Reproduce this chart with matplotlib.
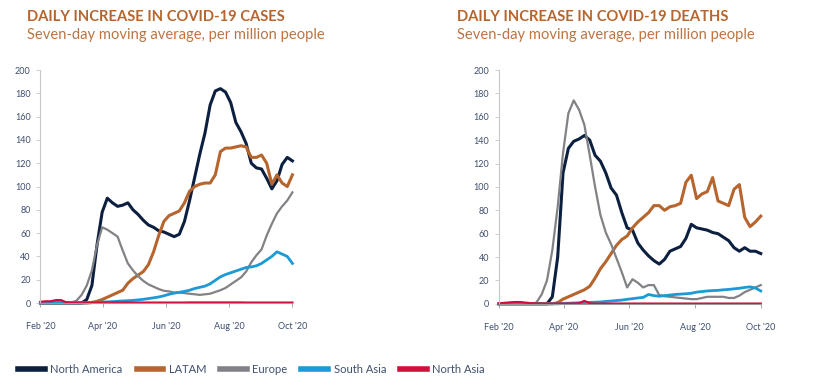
import matplotlib
matplotlib.use('Agg')
import matplotlib.pyplot as plt
import pandas as pd

plt.rcParams['font.family'] = ['Lato', 'DejaVu Sans']

# Sample dates (about every five days, Feb 1 to Oct 1 2020)
dates = pd.date_range('2020-02-01', '2020-10-01', periods=50)

regions = ['North America', 'LATAM', 'Europe', 'South Asia', 'North Asia']
colors = ['#0c1f3f', '#b5652d', '#808285', '#1b9ad6', '#d0103a']
widths = [2.2, 2.2, 1.6, 2.0, 1.6]

# Daily cases, 7-day average per million
cases_na = [0, 0, 0, 0, 0, 0, 0, 0, 0, 3,
            15, 50, 78, 90, 86, 83, 84, 86, 80, 76,
            71, 67, 65, 62, 61, 59, 57, 59, 70, 88,
            108, 128, 146, 170, 182, 184, 181, 172, 155, 147,
            137, 120, 116, 115, 107, 98, 105, 119, 125, 122]
cases_latam = [0, 0, 0, 0, 0, 0, 0, 0, 0, 0,
               0.5, 1.5, 3, 5, 7, 9, 11, 17, 21, 24,
               27, 33, 44, 58, 70, 75, 77, 79, 86, 96,
               100, 102, 103, 103, 110, 130, 133, 133, 134, 135,
               134, 125, 125, 127, 120, 102, 110, 103, 100, 110]
cases_europe = [0, 0, 0, 0, 0, 0, 0.5, 2, 7, 15,
                28, 50, 65, 63, 60, 57, 45, 34, 28, 23,
                19, 16, 14, 12, 10.5, 10, 9, 9, 8.5, 8,
                7.5, 7, 7.5, 8, 9.5, 11, 13, 16, 19, 22,
                27, 35, 41, 46, 58, 68, 77, 83, 88, 95]
cases_sasia = [0, 0, 0, 0, 0, 0, 0, 0, 0, 0.2,
               0.3, 0.5, 0.8, 1, 1.2, 1.5, 1.8, 2, 2.3, 2.7,
               3.2, 3.8, 4.5, 5.2, 6.2, 7.5, 8.5, 9.2, 10, 11,
               12.5, 13.5, 14.5, 16.5, 19.5, 22.5, 24.5, 26, 27.5, 29,
               30.5, 31, 32, 34, 37, 40, 44, 42, 40, 34]
cases_nasia = [1, 1.5, 1.5, 2.5, 2.5, 0.6, 0.3, 0.3, 0.3, 0.3,
               0.3, 0.3, 0.4, 0.4, 0.4, 0.4, 0.4, 0.4, 0.4, 0.4,
               0.4, 0.4, 0.4, 0.4, 0.4, 0.4, 0.4, 0.4, 0.4, 0.5,
               0.5, 0.5, 0.5, 0.5, 0.5, 0.5, 0.5, 0.5, 0.5, 0.5,
               0.4, 0.4, 0.4, 0.4, 0.4, 0.4, 0.4, 0.4, 0.4, 0.4]

# Daily deaths, 7-day average per million
deaths_na = [0, 0, 0, 0, 0, 0, 0, 0, 0, 0,
             6, 40, 112, 133, 139, 141, 144, 140, 127, 122,
             112, 99, 93, 78, 65, 63, 52, 46, 41, 37,
             34, 38, 45, 47, 49, 56, 68, 65, 64, 63,
             61, 60, 57, 54, 48, 45, 48, 45, 45, 43]
deaths_latam = [0, 0, 0, 0, 0, 0, 0, 0, 0, 0,
                0, 1, 4, 6, 8, 10, 12, 15, 22, 30,
                36, 43, 50, 55, 58, 65, 70, 74, 78, 84,
                84, 80, 83, 84, 86, 104, 110, 90, 94, 96,
                108, 88, 86, 84, 98, 102, 74, 66, 70, 75]
deaths_europe = [0, 0, 0, 0, 0, 0, 0, 1, 8, 20,
                 46, 83, 129, 163, 174, 166, 153, 127, 100, 76,
                 61, 51, 39, 27, 14, 21, 18, 14, 16, 16,
                 7.5, 6.5, 6, 5.5, 5, 4.5, 4, 4, 5, 6,
                 6, 6, 6, 5, 5, 7, 10, 12, 14, 16]
deaths_sasia = [0, 0, 0, 0, 0, 0, 0, 0, 0, 0,
                0, 0, 0.3, 0.5, 0.7, 0.9, 1, 1.2, 1.4, 1.6,
                2, 2.4, 2.8, 3.2, 3.8, 4.4, 5, 5.5, 8, 7,
                6.5, 7, 7.5, 8, 8.3, 8.6, 9, 10, 10.5, 11,
                11.3, 11.5, 12, 12.3, 12.8, 13.3, 14, 14.5, 13.5, 11]
deaths_nasia = [0.3, 0.8, 1.2, 1.5, 1.5, 1, 0.5, 0.3, 0.2, 0.2,
                0.2, 0.2, 0.2, 0.2, 0.3, 0.5, 2.5, 0.5, 0.2, 0.2,
                0.2, 0.2, 0.2, 0.2, 0.2, 0.2, 0.2, 0.2, 0.2, 0.2,
                0.2, 0.2, 0.2, 0.2, 0.2, 0.2, 0.2, 0.2, 0.2, 0.2,
                0.2, 0.2, 0.2, 0.2, 0.2, 0.2, 0.2, 0.2, 0.2, 0.2]

tick_dates = pd.to_datetime(['2020-02-01', '2020-04-01', '2020-06-01',
                             '2020-08-01', '2020-10-01'])
tick_labels = ["Feb '20", "Apr '20", "Jun '20", "Aug '20", "Oct '20"]
y_ticks = list(range(0, 201, 20))

title_color = '#b5652d'
label_color = '#3f4f6e'


def draw_panel(ax, series, title, subtitle, title_x):
    for vals, c, lw, name in zip(series, colors, widths, regions):
        ax.plot(dates, vals, color=c, lw=lw, label=name, clip_on=False,
                solid_joinstyle='round')
    ax.set_xlim(tick_dates[0], tick_dates[-1])
    ax.set_ylim(0, 200)
    ax.set_xticks(tick_dates)
    ax.set_xticklabels(tick_labels)
    ax.set_yticks(y_ticks)
    for side in ['top', 'right']:
        ax.spines[side].set_visible(False)
    ax.spines['left'].set_color('#c8c8c8')
    ax.spines['bottom'].set_color('#9a9a9a')
    ax.spines['left'].set_linewidth(0.8)
    ax.spines['bottom'].set_linewidth(0.8)
    ax.tick_params(axis='y', length=3, width=0.6, color='#c8c8c8',
                   labelsize=6.5, labelcolor=label_color, pad=4)
    ax.tick_params(axis='x', length=3, width=0.6, color='#9a9a9a',
                   labelsize=6.5, labelcolor=label_color, pad=11)
    fig.text(title_x, 0.945, title, color=title_color, fontsize=10.6,
             fontweight='bold', ha='left', va='baseline')
    fig.text(title_x, 0.9, subtitle, color=title_color, fontsize=10.6,
             ha='left', va='baseline', alpha=0.9)


fig = plt.figure(figsize=(8.26, 3.89), dpi=100)
ax1 = fig.add_axes([0.049, 0.221, 0.305, 0.599])
ax2 = fig.add_axes([0.604, 0.219, 0.317, 0.601])

draw_panel(ax1, [cases_na, cases_latam, cases_europe, cases_sasia, cases_nasia],
           'DAILY INCREASE IN COVID-19 CASES',
           'Seven-day moving average, per million people', 0.033)
draw_panel(ax2, [deaths_na, deaths_latam, deaths_europe, deaths_sasia, deaths_nasia],
           'DAILY INCREASE IN COVID-19 DEATHS',
           'Seven-day moving average, per million people', 0.553)

handles, labels = ax1.get_legend_handles_labels()
leg = fig.legend(handles, labels, loc='lower left', bbox_to_anchor=(0.01, 0.01),
                 ncol=5, frameon=False, fontsize=8, handlelength=2.4,
                 handletextpad=0.5, columnspacing=1.25)
for line in leg.get_lines():
    line.set_linewidth(4)
for txt in leg.get_texts():
    txt.set_color(label_color)

fig.savefig('out.png', dpi=100)
